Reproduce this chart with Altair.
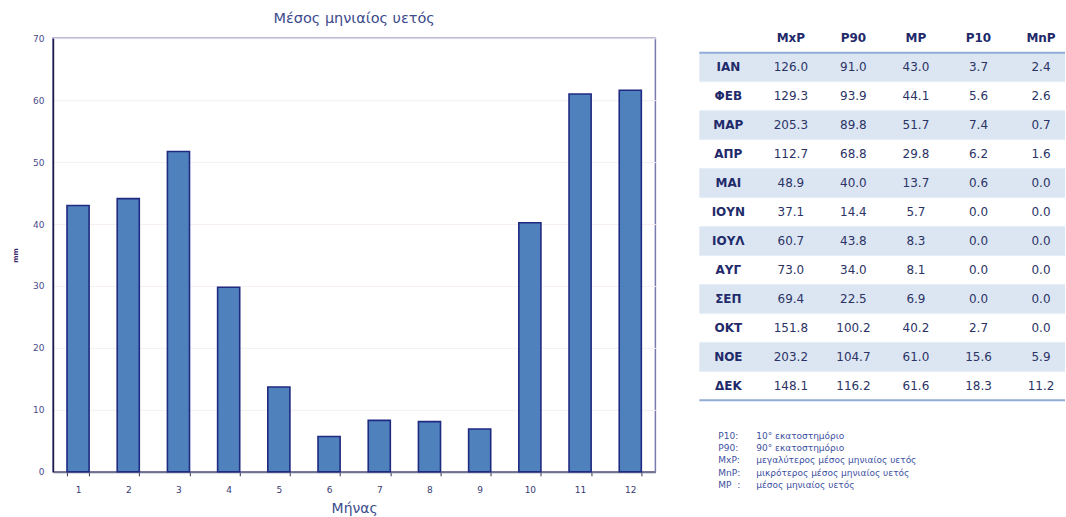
import altair as alt
import pandas as pd

months = list(range(1, 13))
mp_values = [43.0, 44.1, 51.7, 29.8, 13.7, 5.7, 8.3, 8.1, 6.9, 40.2, 61.0, 61.6]

month_names = ["ΙΑΝ", "ΦΕΒ", "ΜΑΡ", "ΑΠΡ", "ΜΑΙ", "ΙΟΥΝ", "ΙΟΥΛ", "ΑΥΓ", "ΣΕΠ", "ΟΚΤ", "ΝΟΕ", "ΔΕΚ"]
columns = ["MxP", "P90", "MP", "P10", "MnP"]
mxp = [126.0, 129.3, 205.3, 112.7, 48.9, 37.1, 60.7, 73.0, 69.4, 151.8, 203.2, 148.1]
p90 = [91.0, 93.9, 89.8, 68.8, 40.0, 14.4, 43.8, 34.0, 22.5, 100.2, 104.7, 116.2]
mp = mp_values
p10 = [3.7, 5.6, 7.4, 6.2, 0.6, 0.0, 0.0, 0.0, 0.0, 2.7, 15.6, 18.3]
mnp = [2.4, 2.6, 0.7, 1.6, 0.0, 0.0, 0.0, 0.0, 0.0, 0.0, 5.9, 11.2]

legend_keys = ["P10:", "P90:", "MxP:", "MnP:", "MP\u00a0\u00a0:"]
legend_desc = ["10° εκατοστημόριο", "90° εκατοστημόριο",
               "μεγαλύτερος μέσος μηνιαίος υετός",
               "μικρότερος μέσος μηνιαίος υετός",
               "μέσος μηνιαίος υετός"]

FONT = "DejaVu Sans"
NAVY = "#1f2a6b"
TXT = "#2b3366"

# ---------- bar chart ----------
bars_df = pd.DataFrame({"month": months, "value": mp_values})
bar_chart = alt.Chart(bars_df).mark_bar(
    fill="#4f81bd", stroke="#1f2a80", strokeWidth=1.6
).encode(
    x=alt.X("month:O", scale=alt.Scale(paddingInner=0.56, paddingOuter=0.28),
            axis=alt.Axis(title="Μήνας", labelAngle=0, tickBand="extent",
                          tickSize=4, tickColor="#303050", labelPadding=10,
                          labelFontSize=9, labelColor="#3a3a70", labelFont=FONT,
                          titleFontSize=14, titleFontWeight="normal", titleColor="#3c4b8c",
                          titleFont=FONT, titlePadding=7,
                          domainColor="#707090", domainWidth=2)),
    y=alt.Y("value:Q", scale=alt.Scale(domain=[0, 70]),
            axis=alt.Axis(title="mm", values=[0, 10, 20, 30, 40, 50, 60, 70],
                          ticks=False, labelPadding=9, labelFontSize=9,
                          labelColor="#4a4a8a", labelFont=FONT,
                          titleFontSize=7, titleFontWeight="bold", titleColor="#3a2a6a",
                          titleFont=FONT, titlePadding=14,
                          grid=True, gridColor="#f7eff1", gridWidth=1,
                          domainColor="#1a1a4a", domainWidth=1.5)),
).properties(
    width=603, height=434,
    title=alt.TitleParams("Μέσος μηνιαίος υετός", fontSize=14.5, fontWeight="normal",
                          color="#3c4b8c", font=FONT, offset=8),
    view=alt.ViewBackground(stroke="#7a7ab0", strokeWidth=1.5),
)

# ---------- table ----------
row_order = ["__hdr"] + month_names
col_order = ["__lbl"] + columns
TOP = -14.5
ROWH = 29
y_range = [TOP, TOP + ROWH * len(row_order)]

rows = []
for i, m in enumerate(month_names):
    rows.append({"row": m, "col": "__lbl", "text": m, "bold": True})
    for c, arr in zip(columns, [mxp, p90, mp, p10, mnp]):
        rows.append({"row": m, "col": c, "text": f"{arr[i]:.1f}", "bold": False})
for c in columns:
    rows.append({"row": "__hdr", "col": c, "text": c, "bold": True})
cells = pd.DataFrame(rows)

shade_df = pd.DataFrame({"row": month_names[0::2]})
sep_df = pd.DataFrame({"row": month_names})

yscale = alt.Scale(domain=row_order, range=y_range, paddingInner=0, paddingOuter=0)
xscale = alt.Scale(domain=col_order, type="point", range=[29, 342], padding=0)

shade = alt.Chart(shade_df).mark_rect(fill="#dce6f2").encode(
    y=alt.Y("row:N", scale=yscale, axis=None)
)
seps = alt.Chart(sep_df).mark_rule(color="#e6edf6", strokeWidth=1).encode(
    y=alt.Y("row:N", scale=yscale, axis=None, bandPosition=1)
)
top_line = alt.Chart(pd.DataFrame({"row": [month_names[0]]})).mark_rule(
    color="#8fadd6", strokeWidth=2).encode(
    y=alt.Y("row:N", scale=yscale, axis=None, bandPosition=0)
)
bottom_line = alt.Chart(pd.DataFrame({"row": [month_names[-1]]})).mark_rule(
    color="#8fadd6", strokeWidth=2).encode(
    y=alt.Y("row:N", scale=yscale, axis=None, bandPosition=1)
)
txt_bold = alt.Chart(cells[cells.bold]).mark_text(
    font=FONT, fontSize=12, fontWeight="bold", color=NAVY).encode(
    x=alt.X("col:N", scale=xscale, axis=None),
    y=alt.Y("row:N", scale=yscale, axis=None),
    text="text:N",
)
txt_norm = alt.Chart(cells[~cells.bold]).mark_text(
    font=FONT, fontSize=12, color=TXT).encode(
    x=alt.X("col:N", scale=xscale, axis=None),
    y=alt.Y("row:N", scale=yscale, axis=None),
    text="text:N",
)

table_layer = alt.layer(shade, seps, top_line, bottom_line, txt_bold, txt_norm)

leg_rows = []
for k, d in zip(legend_keys, legend_desc):
    leg_rows.append({"line": k, "part": "key", "text": k})
    leg_rows.append({"line": k, "part": "desc", "text": d})
leg_df = pd.DataFrame(leg_rows)
legend = alt.Chart(leg_df).mark_text(
    font=FONT, fontSize=9, color="#3d4fa0", align="left").encode(
    x=alt.X("part:N", scale=alt.Scale(domain=["key", "desc"], type="point",
                                      range=[19, 57], padding=0), axis=None),
    y=alt.Y("line:N", sort=legend_keys,
            scale=alt.Scale(domain=legend_keys, range=[398, 447], type="point", padding=0),
            axis=None),
    text="text:N",
)

table_chart = alt.layer(table_layer, legend).resolve_scale(
    x="independent", y="independent"
).properties(width=366, height=440, view=alt.ViewBackground(stroke=None))

chart = alt.hconcat(bar_chart, table_chart, spacing=42).properties(
    padding={"left": 10, "top": 9, "right": 0, "bottom": 0},
    background="white",
).configure_view(stroke=None).configure_concat(spacing=42)

chart.save("out.html", embed_options={"renderer": "svg", "actions": False})
